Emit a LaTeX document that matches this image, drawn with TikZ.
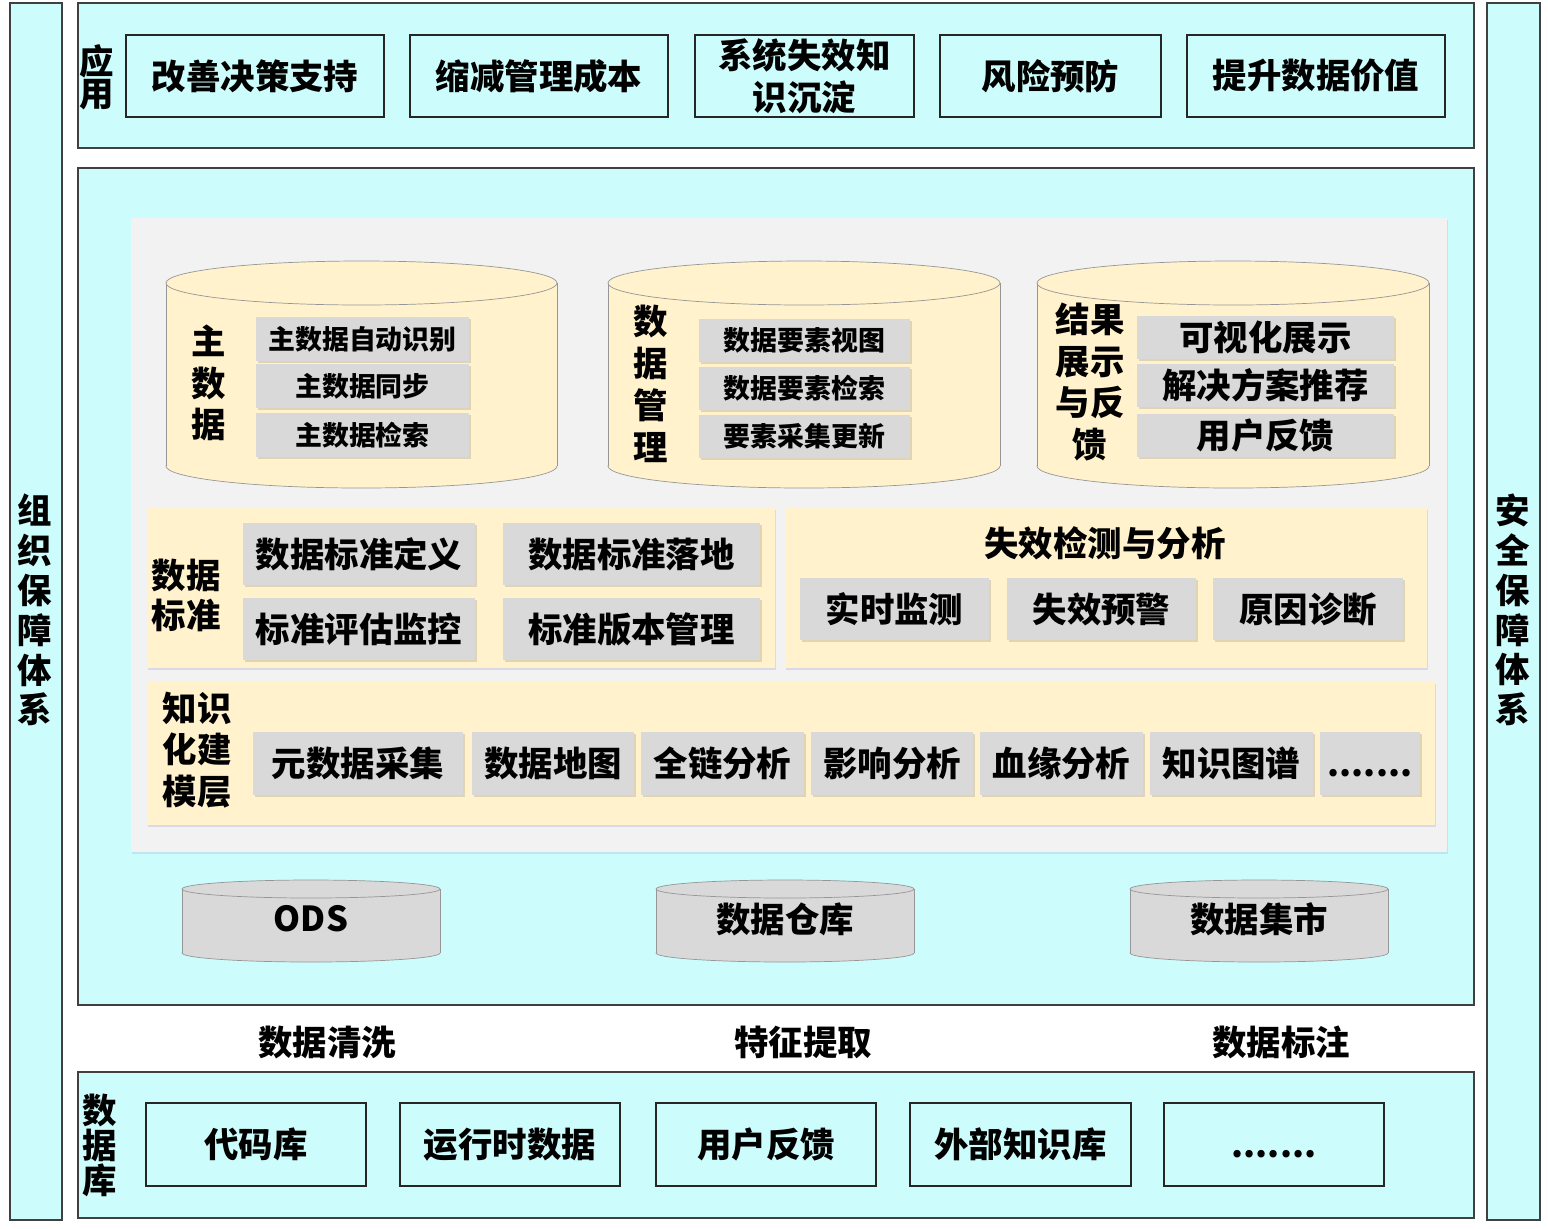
\documentclass[tikz,border=0pt]{standalone}
\usepackage{fontspec}
\setmainfont{Noto Sans CJK SC}
\usetikzlibrary{shadows}
\definecolor{layercyan}{RGB}{204,252,252}
\definecolor{modyellow}{RGB}{255,242,204}
\definecolor{itemgrey}{RGB}{217,217,217}
\definecolor{panelgrey}{RGB}{242,242,242}
\definecolor{cylline}{RGB}{150,150,150}
\tikzset{layer/.style={draw=black!75,line width=.8pt,fill=layercyan},
 wpx/.style={minimum width=#1*0.02cm},hpx/.style={minimum height=#1*0.02cm},
 lbl/.style={align=center,inner sep=0pt,font=\bfseries\fontsize{19.6}{#1}\selectfont},
 srcbox/.style={draw=black!85,line width=1.3pt,fill=layercyan,inner sep=0pt,align=center,
  font=\bfseries\fontsize{19.6}{23.8}\selectfont},
 item/.style={fill=itemgrey,inner sep=0pt,font=\bfseries\fontsize{19.6}{23.8}\selectfont,
  drop shadow={shadow xshift=1pt,shadow yshift=-1.2pt,opacity=.12,fill=black}},
 smallitem/.style={item,font=\bfseries\fontsize{15.3}{18}\selectfont},
 dots/.style={text height=0.5cm,text depth=0pt},
 panel/.style={fill=modyellow,drop shadow={shadow xshift=.8pt,shadow yshift=-1.2pt,opacity=.15,fill=blue!40!gray}}}
\newcommand{\dbcyl}[6]{% x1, x2, top, bottom, ry, fill
 \pgfmathsetmacro\cylcx{(#1+#2)/2}\pgfmathsetmacro\cylrx{(#2-#1)/2}
 \filldraw[fill=#6,draw=cylline] (\cylcx,#4) ellipse [x radius=\cylrx,y radius=#5];
 \fill[#6] (#1,#3) rectangle (#2,#4);
 \draw[cylline] (#1,#3) -- (#1,#4) (#2,#3) -- (#2,#4);
 \filldraw[fill=#6,draw=cylline] (\cylcx,#3) ellipse [x radius=\cylrx,y radius=#5];}

\begin{document}
\begin{tikzpicture}[x=0.02cm,y=-0.02cm]
\useasboundingbox (0,0) rectangle (1548,1228);
% side columns
\draw[layer] (10,3) rectangle (62,1220);
\node[lbl=22.7] (org) at (35,610) {组\\织\\保\\障\\体\\系};
\draw[layer] (1487,3) rectangle (1540,1220);
\node[lbl=22.7] (sec) at (1513,610) {安\\全\\保\\障\\体\\系};
% application layer
\draw[layer] (78,3) rectangle (1474,148);
\node[lbl=18] (app) at (97,77) {应\\用};
\node[srcbox,wpx=258,hpx=82] (app1) at (255,76) {改善决策支持};
\node[srcbox,wpx=258,hpx=82] (app2) at (539,76) {缩减管理成本};
\node[srcbox,wpx=219,hpx=82] (app3) at (804.5,76) {系统失效知\\识沉淀};
\node[srcbox,wpx=221,hpx=82] (app4) at (1050.5,76) {风险预防};
\node[srcbox,wpx=258,hpx=82] (app5) at (1316,76) {提升数据价值};
% platform
\draw[layer] (78,168) rectangle (1474,1005);
\fill[panelgrey,drop shadow={shadow xshift=.8pt,shadow yshift=-1pt,opacity=.12,fill=blue!40!gray}] (131,218) rectangle (1447,852);
\dbcyl{166}{557}{283}{466}{22}{modyellow}
\dbcyl{608}{1000}{283}{466}{22}{modyellow}
\dbcyl{1037}{1429}{283}{466}{22}{modyellow}
\node[lbl=23.8] (mdm) at (209,383) {主\\数\\据};
\node[smallitem,wpx=213,hpx=44] (mdm1) at (362.5,339) {主数据自动识别};
\node[smallitem,wpx=213,hpx=44] (mdm2) at (362.5,386) {主数据同步};
\node[smallitem,wpx=213,hpx=44] (mdm3) at (362.5,435) {主数据检索};
\node[lbl=23.8] (dm) at (651,384) {数\\据\\管\\理};
\node[smallitem,wpx=211,hpx=43] (dm1) at (804.5,340) {数据要素视图};
\node[smallitem,wpx=211,hpx=43] (dm2) at (804.5,388) {数据要素检索};
\node[smallitem,wpx=211,hpx=43] (dm3) at (804.5,436) {要素采集更新};
\node[lbl=23.8] (res) at (1090,382) {结果\\展示\\与反\\馈};
\node[item,wpx=257,hpx=43] (res1) at (1265.5,337.5) {可视化展示};
\node[item,wpx=257,hpx=43] (res2) at (1265.5,385.5) {解决方案推荐};
\node[item,wpx=257,hpx=43] (res3) at (1265.5,435) {用户反馈};
% standards and failure analysis
\fill[panel] (147,508) rectangle (775,668);
\node[lbl=22.7] (std) at (186,595) {数据\\标准};
\node[item,wpx=232,hpx=62] (std1) at (359,554) {数据标准定义};
\node[item,wpx=257,hpx=62] (std2) at (631.5,554) {数据标准落地};
\node[item,wpx=232,hpx=62] (std3) at (359,629) {标准评估监控};
\node[item,wpx=257,hpx=62] (std4) at (631.5,629) {标准版本管理};
\fill[panel] (785,508) rectangle (1427,668);
\node[lbl=23.8] (fail) at (1105,543) {失效检测与分析};
\node[item,wpx=189,hpx=62] (fail1) at (894.5,609) {实时监测};
\node[item,wpx=189,hpx=62] (fail2) at (1101.5,609) {失效预警};
\node[item,wpx=190,hpx=62] (fail3) at (1308,609) {原因诊断};
% knowledge modelling
\fill[panel] (147,682) rectangle (1435,825);
\node[lbl=23.8] (km) at (197,750) {知识\\化建\\模层};
\node[item,wpx=210,hpx=63] (km1) at (358,763.5) {元数据采集};
\node[item,wpx=162,hpx=63] (km2) at (553,763.5) {数据地图};
\node[item,wpx=163,hpx=63] (km3) at (722.5,763.5) {全链分析};
\node[item,wpx=162,hpx=63] (km4) at (892,763.5) {影响分析};
\node[item,wpx=163,hpx=63] (km5) at (1061.5,763.5) {血缘分析};
\node[item,wpx=163,hpx=63] (km6) at (1231.5,763.5) {知识图谱};
\node[item,dots,wpx=100,hpx=63] (km7) at (1370,763.5) {.......};
% storage
\dbcyl{182}{440}{889}{953}{9}{itemgrey}
\dbcyl{656}{914}{889}{953}{9}{itemgrey}
\dbcyl{1130}{1388}{889}{953}{9}{itemgrey}
\node[lbl=23.8] (ods) at (311,919) {ODS};
\node[lbl=23.8] (dw) at (785,919) {数据仓库};
\node[lbl=23.8] (dmart) at (1259,919) {数据集市};
% processing
\node[lbl=23.8] (clean) at (327,1042) {数据清洗};
\node[lbl=23.8] (feat) at (803,1042) {特征提取};
\node[lbl=23.8] (tag) at (1281,1042) {数据标注};
% sources
\draw[layer] (78,1072) rectangle (1474,1218);
\node[lbl=19.9] (db) at (100,1145) {数\\据\\库};
\node[srcbox,wpx=220,hpx=83] (src1) at (256,1144.5) {代码库};
\node[srcbox,wpx=220,hpx=83] (src2) at (510,1144.5) {运行时数据};
\node[srcbox,wpx=220,hpx=83] (src3) at (766,1144.5) {用户反馈};
\node[srcbox,wpx=221,hpx=83] (src4) at (1020.5,1144.5) {外部知识库};
\node[srcbox,dots,wpx=220,hpx=83] (src5) at (1274,1144.5) {.......};
\end{tikzpicture}
\end{document}
